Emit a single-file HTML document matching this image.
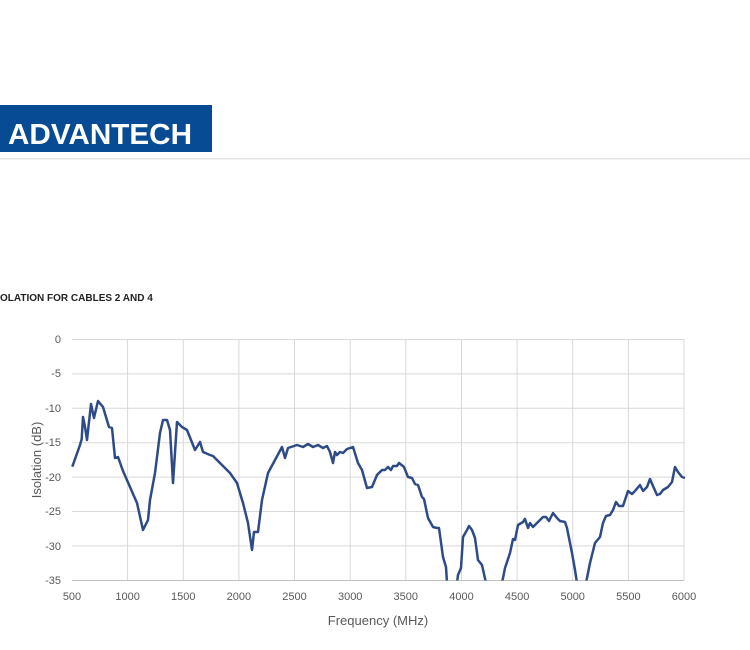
<!DOCTYPE html>
<html><head><meta charset="utf-8"><style>
body{margin:0;width:750px;height:650px;background:#fff;overflow:hidden;font-family:"Liberation Sans",sans-serif}
</style></head><body>
<svg width="750" height="650" xmlns="http://www.w3.org/2000/svg" style="position:absolute;left:0;top:0">
<rect x="0" y="105" width="212" height="47" fill="#064b93"/>
<text x="8" y="144" fill="#fff" font-family="Liberation Sans, sans-serif" font-weight="bold" font-size="29" textLength="184" lengthAdjust="spacingAndGlyphs">ADVANTECH</text>
<rect x="0" y="158" width="750" height="1.5" fill="#e4e4e4"/>
<text x="0" y="301" font-size="10" font-weight="bold" fill="#222">OLATION FOR CABLES 2 AND 4</text>
<g stroke="#d9d9d9" stroke-width="1">
<line x1="72" y1="339.5" x2="684" y2="339.5"/><line x1="72" y1="373.9" x2="684" y2="373.9"/><line x1="72" y1="408.3" x2="684" y2="408.3"/><line x1="72" y1="442.7" x2="684" y2="442.7"/><line x1="72" y1="477.1" x2="684" y2="477.1"/><line x1="72" y1="511.5" x2="684" y2="511.5"/><line x1="72" y1="545.9" x2="684" y2="545.9"/>
<line x1="127.6" y1="339" x2="127.6" y2="580"/><line x1="183.3" y1="339" x2="183.3" y2="580"/><line x1="238.9" y1="339" x2="238.9" y2="580"/><line x1="294.5" y1="339" x2="294.5" y2="580"/><line x1="350.2" y1="339" x2="350.2" y2="580"/><line x1="405.8" y1="339" x2="405.8" y2="580"/><line x1="461.5" y1="339" x2="461.5" y2="580"/><line x1="517.1" y1="339" x2="517.1" y2="580"/><line x1="572.7" y1="339" x2="572.7" y2="580"/><line x1="628.4" y1="339" x2="628.4" y2="580"/><line x1="684" y1="339" x2="684" y2="580"/>
</g>
<line x1="72" y1="580.5" x2="684" y2="580.5" stroke="#bfbfbf" stroke-width="1"/>
<g font-size="11" fill="#595959" text-anchor="end">
<text x="61" y="343">0</text><text x="61" y="377">-5</text><text x="61" y="412">-10</text><text x="61" y="446">-15</text><text x="61" y="481">-20</text><text x="61" y="515">-25</text><text x="61" y="550">-30</text><text x="61" y="584">-35</text>
</g>
<g font-size="11" fill="#595959" text-anchor="middle">
<text x="72" y="600">500</text><text x="127.6" y="600">1000</text><text x="183.3" y="600">1500</text><text x="238.9" y="600">2000</text><text x="294.5" y="600">2500</text><text x="350.2" y="600">3000</text><text x="405.8" y="600">3500</text><text x="461.5" y="600">4000</text><text x="517.1" y="600">4500</text><text x="572.7" y="600">5000</text><text x="628.4" y="600">5500</text><text x="684" y="600">6000</text>
</g>
<text x="378" y="625" font-size="13" fill="#595959" text-anchor="middle">Frequency (MHz)</text>
<text transform="translate(41,460) rotate(-90)" font-size="13" fill="#595959" text-anchor="middle">Isolation (dB)</text>
<clipPath id="c"><rect x="60" y="330" width="640" height="250.5"/></clipPath>
<polyline clip-path="url(#c)" fill="none" stroke="#2f4b87" stroke-width="2.5" stroke-linejoin="round" points="72.3,466.7 80,445 81.7,439 83,417 85,427 87,440 91,404 94,418 98,401 103,407 109,427 112,428 115,458 118,457 123,471 130,487 137,503 143,530 148,520 150,500 155,473 160,433 163,420 167,420 170,430 173,483 177,422 182,427 187,430 195,450 200,442 203,452 210,455 213,456 220,463 230,473 237,483 243,503 248,523 252,550 254,532 258,532 262,500 268,473 275,460 282,447 285,458 288,448 297,445 303,447 308,444 313,447 318,445 323,448 327,446 330,452 333,463 335,452 337,455 340,452 343,453 347,449 353,447 358,463 362,470 367,488 372,487 377,475 382,470 385,470 388,467 391,470 393,466 397,466 399,463 404,467 408,477 412,478 415,484 418,485 422,497 424,499 428,518 433,527 437,528 439,528 443,557 446,567 447,583 457,583 458,575 461,568 463,537 467,530 469,526 472,530 475,538 478,560 482,565 486,583 502,583 505,568 510,553 513,539 515,540 518,525 523,522 525,519 528,528 530,523 533,527 537,523 543,517 546,517 549,521 553,513 557,518 560,521 565,522 567,528 572,553 575,570 577,583 586,583 590,563 595,543 600,537 603,523 606,516 610,515 613,510 616,502 619,506 623,506 628,491 632,494 635,491 640,485 643,491 647,487 650,479 653,486 657,495 660,494 663,490 668,487 672,482 675,467 678,472 682,477 685,478"/>
</svg>
</body></html>
